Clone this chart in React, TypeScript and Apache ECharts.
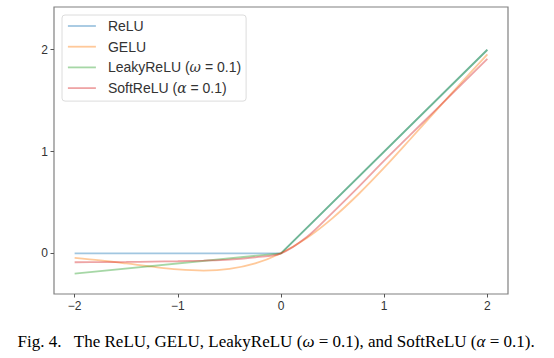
import React, { useEffect, useRef } from "react";
import * as echarts from "echarts";

// Sample x positions
const xsSmooth = [-2, -1.75, -1.5, -1.25, -1, -0.75, -0.5, -0.25, 0, 0.25, 0.5, 0.75, 1, 1.25, 1.5, 1.75, 2];
const xsKink = [-2, 0, 2];

// Values
const reluY = [0, 0, 2];
const leakyY = [-0.2, 0, 2];
const geluY = [-0.045, -0.07, -0.1, -0.132, -0.159, -0.17, -0.154, -0.1, 0, 0.15, 0.346, 0.58, 0.841, 1.118, 1.4, 1.68, 1.955];
const softY = [-0.088, -0.087, -0.085, -0.082, -0.078, -0.072, -0.062, -0.04, 0, 0.16, 0.4, 0.65, 0.91, 1.16, 1.41, 1.66, 1.91];

const xTicks = [-2, -1, 0, 1, 2];
const yTicks = [0, 1, 2];

const names = ["ReLU", "GELU", "LeakyReLU (ω = 0.1)", "SoftReLU (α = 0.1)"];
const colors = ["#1f77b4", "#ff7f0e", "#2ca02c", "#d62728"];

const SANS = "Liberation Sans, Arial, sans-serif";
const SERIF = "Liberation Serif, Times New Roman, serif";
const MATH = "DejaVu Serif, serif";

function pair(xs: number[], ys: number[]) {
  return xs.map((x, i) => [x, ys[i]]);
}

function legendLabel(name: string) {
  if (name.startsWith("LeakyReLU")) return "{s|}{n|LeakyReLU (}{i|ω}{n| = 0.1)}";
  if (name.startsWith("SoftReLU")) return "{s|}{n|SoftReLU (}{i|α}{n| = 0.1)}";
  return "{s|}{n|" + name + "}";
}

export default function App() {
  const ref = useRef<HTMLDivElement>(null);
  useEffect(() => {
    if (!ref.current) return;
    const chart = echarts.init(ref.current, undefined, { renderer: "svg" });
    const fmt = (v: number) => String(v).replace("-", "\u2212");
    const lineSeries = (i: number, data: number[][], smooth: boolean) => ({
      name: names[i],
      type: "line",
      data,
      symbol: "none",
      smooth: smooth ? 0.35 : false,
      lineStyle: { color: colors[i], width: 1.8, opacity: 0.42 },
      itemStyle: { color: colors[i], opacity: 0.42 },
      z: 2 + i,
    });
    chart.setOption({
      animation: false,
      grid: {
        left: 54,
        top: 7,
        right: 46,
        bottom: 64,
        show: true,
        borderColor: "#808080",
        borderWidth: 1.2,
        backgroundColor: "#fff",
      },
      xAxis: {
        type: "value",
        min: -2.2,
        max: 2.2,
        axisLine: { show: false, onZero: false },
        splitLine: { show: false },
        axisTick: { show: true, length: 3.5, customValues: xTicks, lineStyle: { color: "#555", width: 1 } },
        axisLabel: { customValues: xTicks, formatter: fmt, color: "#333", fontSize: 12, fontFamily: SANS, margin: 6 },
      },
      yAxis: {
        type: "value",
        min: -0.4,
        max: 2.42,
        axisLine: { show: false, onZero: false },
        splitLine: { show: false },
        axisTick: { show: true, length: 3.5, customValues: yTicks, lineStyle: { color: "#555", width: 1 } },
        axisLabel: { customValues: yTicks, formatter: fmt, color: "#333", fontSize: 12, fontFamily: SANS, margin: 6 },
      },
      legend: {
        show: true,
        orient: "vertical",
        left: 62,
        top: 15,
        padding: [4, 5, 6, 5],
        itemWidth: 28,
        itemHeight: 14,
        itemGap: 6.7,
        selectedMode: false,
        backgroundColor: "#fff",
        borderColor: "#dcdcdc",
        borderWidth: 1,
        borderRadius: 3,
        itemStyle: { opacity: 0 },
        lineStyle: { width: 1.8 },
        data: names,
        formatter: (n: string) => legendLabel(n),
        textStyle: {
          fontSize: 14,
          color: "#333",
          fontFamily: SANS,
          lineHeight: 14,
          rich: {
            s: { width: 7 },
            n: { fontSize: 14, fontFamily: SANS, color: "#333" },
            i: { fontSize: 14, fontFamily: MATH, fontStyle: "italic", color: "#333" },
          },
        },
      },
      graphic: [
        {
          type: "text",
          x: 276,
          y: 341,
          style: {
            text: "{n|Fig. 4.   The ReLU, GELU, LeakyReLU (}{i|ω}{n| = 0.1), and SoftReLU (}{i|α}{n| = 0.1).}",
            align: "center",
            verticalAlign: "middle",
            fill: "#000",
            rich: {
              n: { fontSize: 17, fontFamily: SERIF, fill: "#000" },
              i: { fontSize: 17, fontFamily: SERIF, fontStyle: "italic", fill: "#000" },
            },
          },
        },
      ],
      series: [
        lineSeries(0, pair(xsKink, reluY), false),
        lineSeries(1, pair(xsSmooth, geluY), true),
        lineSeries(2, pair(xsKink, leakyY), false),
        lineSeries(3, pair(xsSmooth, softY), true),
      ],
    });
    return () => chart.dispose();
  }, []);
  return <div ref={ref} style={{ position: "absolute", left: 0, top: 0, width: 554, height: 358 }} />;
}
